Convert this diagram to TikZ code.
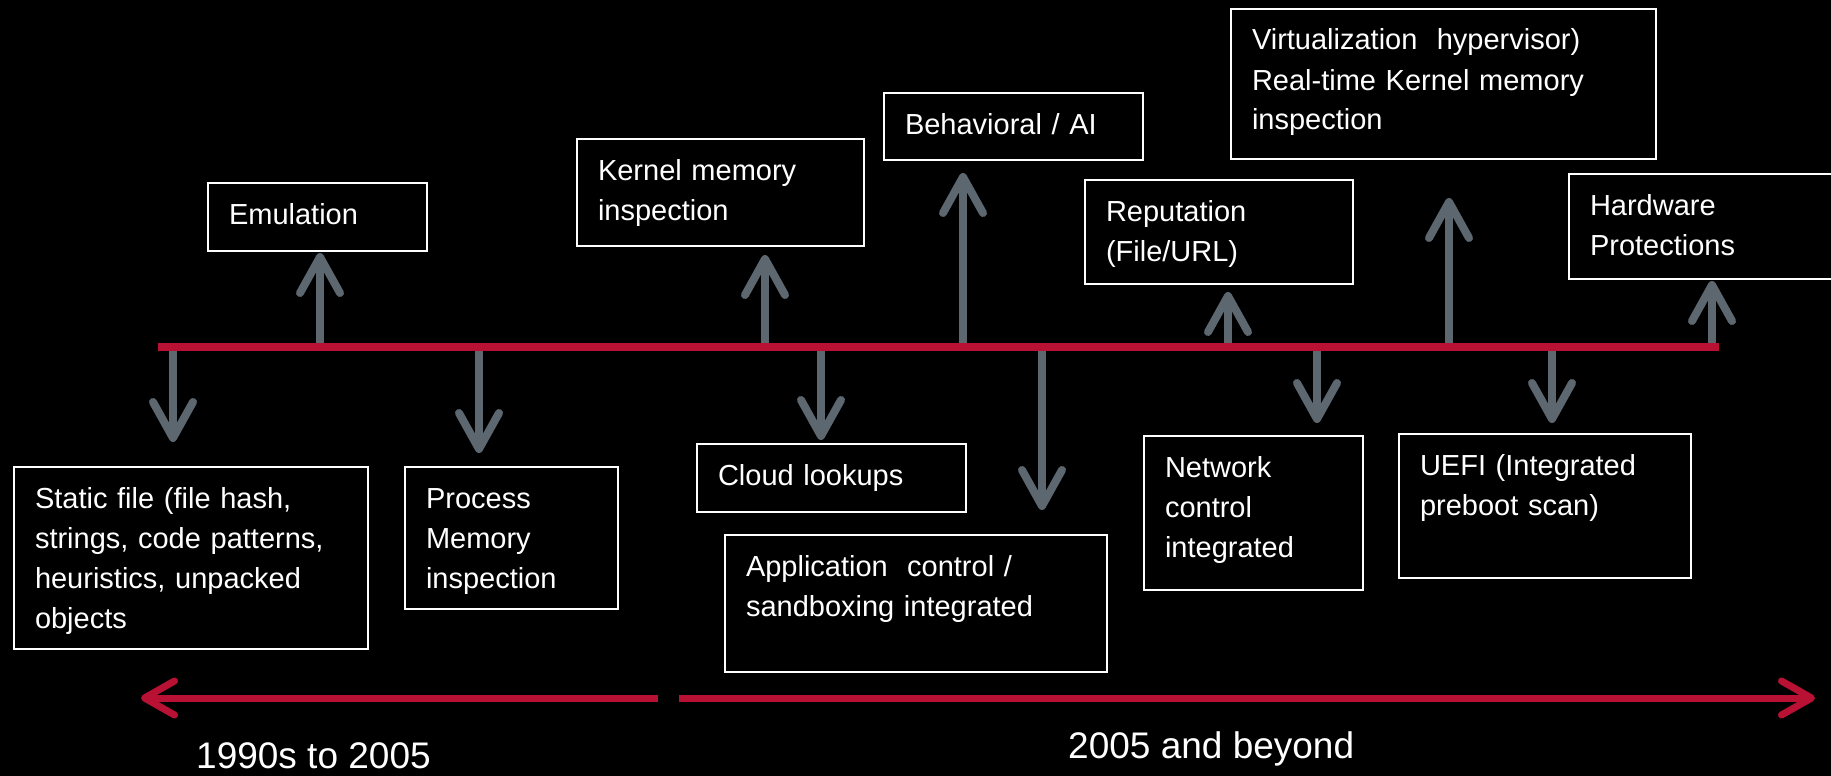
\documentclass[tikz,border=0pt]{standalone}
\usepackage{fontspec}
\setmainfont{Liberation Sans}
\usetikzlibrary{arrows.meta}

\definecolor{timeRed}{RGB}{185, 17, 52}
\definecolor{arrowGray}{RGB}{93, 103, 112}

\tikzset{
  techbox/.style={draw=white, line width=2pt, text=white, anchor=north west,
    inner xsep=21pt, inner ysep=0pt, text height=41pt, align=left,
    font=\fontsize{29pt}{40pt}\selectfont},
  featarrow/.style={draw=arrowGray, line width=8pt,
    -{Straight Barb[length=36pt,width=40pt,round]}},
  eraarrow/.style={draw=timeRed, line width=7pt,
    -{Straight Barb[length=30pt,width=34pt,round]}},
  eralabel/.style={text=white, anchor=base west, inner sep=0pt,
    font=\fontsize{37pt}{44pt}\selectfont}
}

\begin{document}
\begin{tikzpicture}[x=1pt, y=-1pt]
  \fill[black] (0,0) rectangle (1831,776);
  \useasboundingbox (0,0) rectangle (1831,776);

  % techniques above the line
  \node[techbox,text width=177pt,text depth=27pt] (emul) at (207,182) {Emulation};
  \node[techbox,text width=245pt,text depth=66pt] (kernel) at (576,138) {Kernel memory\\inspection};
  \node[techbox,text width=217pt,text depth=26pt] (behav) at (883,92) {Behavioral / AI};
  \node[techbox,text width=383pt,text depth=109pt] (virt) at (1230,8) {Virtualization\ \ hypervisor)\\Real-time Kernel memory\\inspection};
  \node[techbox,text width=226pt,text depth=63pt] (reput) at (1084,179) {Reputation\\(File/URL)};
  \node[techbox,text width=238pt,text depth=64pt] (hw) at (1568,173) {Hardware\\Protections};

  % techniques below the line
  \node[techbox,text width=312pt,text depth=141pt] (static) at (13,466) {Static file (file hash,\\strings, code patterns,\\heuristics, unpacked\\objects};
  \node[techbox,text width=171pt,text depth=101pt] (process) at (404,466) {Process\\Memory\\inspection};
  \node[techbox,text width=227pt,text depth=27pt] (cloud) at (696,443) {Cloud lookups};
  \node[techbox,text width=340pt,text depth=96pt] (appctl) at (724,534) {Application\ \ control /\\sandboxing integrated};
  \node[techbox,text width=177pt,text depth=113pt] (netctl) at (1143,435) {Network\\control\\integrated};
  \node[techbox,text width=250pt,text depth=103pt] (uefi) at (1398,433) {UEFI (Integrated\\preboot scan)};

  % arrows off the timeline
  \foreach \n/\x/\y in {emul/320/253, kernel/765/255, behav/963/173, reput/1228/292, virt/1449/198, hw/1712/281,
                        static/173/442, process/479/453, cloud/821/440, appctl/1042/510, netctl/1317/423, uefi/1552/423} {
    \coordinate (base-\n) at (\x,347);
    \coordinate (tip-\n) at (\x,\y);
    \draw[featarrow] (base-\n) -- (tip-\n);
  }

  % the timeline
  \coordinate (tl-start) at (158,347);
  \coordinate (tl-end) at (1719,347);
  \draw[timeRed, line width=8pt] (tl-start) -- (tl-end);

  % eras
  \coordinate (era1-end) at (658,698);
  \coordinate (era1-tip) at (141,698);
  \coordinate (era2-start) at (679,698);
  \coordinate (era2-tip) at (1815,698);
  \draw[eraarrow] (era1-end) -- (era1-tip);
  \draw[eraarrow] (era2-start) -- (era2-tip);

  \node[eralabel] (era1) at (196,768) {1990s to 2005};
  \node[eralabel] (era2) at (1068,758) {2005 and beyond};
\end{tikzpicture}
\end{document}
